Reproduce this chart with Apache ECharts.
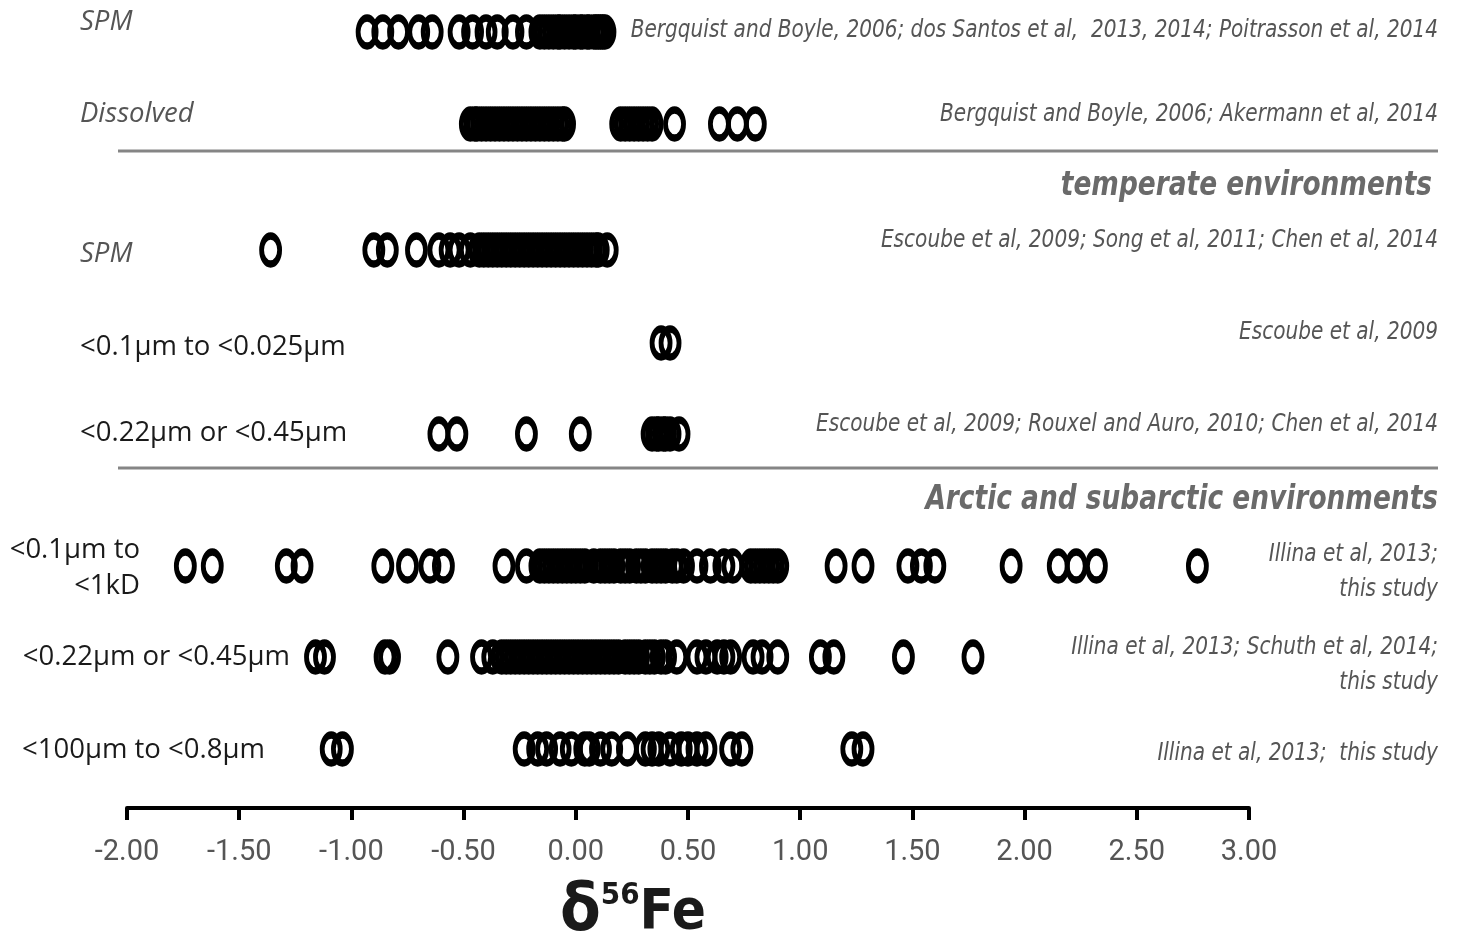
<!DOCTYPE html>
<html>
<head>
<meta charset="utf-8">
<script src="https://cdn.jsdelivr.net/npm/echarts@6/dist/echarts.min.js"></script>
<style>
  html, body { margin: 0; padding: 0; background: #fff; }
  #chart { width: 1459px; height: 947px; }
</style>
</head>
<body>
<div id="chart"></div>
<script>
// rows, top to bottom
const rowNames = ['SPM', 'Dissolved', 'SPM', '<0.1µm to <0.025µm', '<0.22µm or <0.45µm',
    '<0.1µm to\n<1kD', '<0.22µm or <0.45µm', '<100µm to <0.8µm'];
const references = [
    'Bergquist and Boyle, 2006; dos Santos et al,  2013, 2014; Poitrasson et al, 2014',
    'Bergquist and Boyle, 2006; Akermann et al, 2014',
    'Escoube et al, 2009; Song et al, 2011; Chen et al, 2014',
    'Escoube et al, 2009',
    'Escoube et al, 2009; Rouxel and Auro, 2010; Chen et al, 2014',
    'Illina et al, 2013;\nthis study',
    'Illina et al, 2013; Schuth et al, 2014;\nthis study',
    'Illina et al, 2013;  this study'
];
const headers = ['temperate environments', 'Arctic and subarctic environments'];
const xTicks = [-2, -1.5, -1, -0.5, 0, 0.5, 1, 1.5, 2, 2.5, 3];

// δ56Fe values per row
const tropSPM = [-0.93, -0.86, -0.79, -0.70, -0.64, -0.52, -0.46, -0.40, -0.35, -0.28, -0.22,
    -0.16, -0.14, -0.12, -0.10, -0.08, -0.07, -0.05, -0.03, -0.01, 0.00, 0.02, 0.03, 0.05,
    0.06, 0.08, 0.09, 0.10, 0.11, 0.12, 0.13];
const tropDissolved = [-0.47, -0.45, -0.44, -0.42, -0.40, -0.38, -0.36, -0.34, -0.32, -0.30,
    -0.28, -0.26, -0.24, -0.22, -0.20, -0.18, -0.16, -0.14, -0.12, -0.10, -0.08, -0.06, -0.05,
    0.20, 0.22, 0.24, 0.26, 0.28, 0.30, 0.32, 0.34, 0.44, 0.64, 0.72, 0.80];
const tempSPM = [-1.36, -0.90, -0.84, -0.71, -0.61, -0.56, -0.52, -0.47, -0.43, -0.41, -0.39,
    -0.37, -0.35, -0.33, -0.31, -0.29, -0.27, -0.25, -0.23, -0.21, -0.19, -0.17, -0.15, -0.13,
    -0.11, -0.09, -0.07, -0.05, -0.03, -0.01, 0.01, 0.03, 0.05, 0.07, 0.09, 0.10, 0.14];
const tempColloid = [0.38, 0.42];
const tempFiltered = [-0.61, -0.53, -0.22, 0.02, 0.34, 0.36, 0.37, 0.39, 0.40, 0.42, 0.46];
const arcColloid = [-1.74, -1.62, -1.29, -1.22, -0.86, -0.75, -0.65, -0.59, -0.32, -0.22,
    -0.16, -0.14, -0.12, -0.10, -0.08, -0.06, -0.04, -0.02, 0.00, 0.02, 0.04, 0.08,
    0.11, 0.13, 0.15, 0.17, 0.20, 0.22, 0.24, 0.27, 0.29, 0.31, 0.34, 0.36, 0.38,
    0.40, 0.43, 0.45, 0.48, 0.54, 0.60, 0.66, 0.70, 0.78, 0.80, 0.82, 0.84, 0.86, 0.88,
    0.90, 1.16, 1.28, 1.48, 1.54, 1.60, 1.94, 2.15, 2.23, 2.32, 2.77];
const arcFiltered = [-1.16, -1.12, -0.85, -0.83, -0.57, -0.42, -0.37, -0.33, -0.31, -0.29,
    -0.27, -0.25, -0.23, -0.21, -0.19, -0.17, -0.15, -0.13, -0.11, -0.09, -0.07, -0.05,
    -0.03, -0.01, 0.01, 0.03, 0.05, 0.07, 0.09, 0.11, 0.13, 0.15, 0.17, 0.19, 0.22, 0.24,
    0.26, 0.28, 0.31, 0.33, 0.35, 0.38, 0.40, 0.45, 0.54, 0.58, 0.63, 0.66, 0.69,
    0.79, 0.83, 0.90, 1.09, 1.15, 1.46, 1.77];
const arcCoarse = [-1.09, -1.04, -0.23, -0.17, -0.13, -0.07, -0.02, 0.04, 0.06, 0.11, 0.16,
    0.23, 0.31, 0.34, 0.37, 0.42, 0.47, 0.50, 0.54, 0.58, 0.69, 0.74, 1.23, 1.28];

const rowValues = [tropSPM, tropDissolved, tempSPM, tempColloid, tempFiltered,
    arcColloid, arcFiltered, arcCoarse];

// layout (pixel rows of the plot, y axis is hidden)
const rowY = [32, 124, 250, 343, 434, 566, 657, 749];
const labelLayout = [
    {x: 80, y: 22, align: 'left', style: 'italic'},
    {x: 80, y: 114, align: 'left', style: 'italic'},
    {x: 80, y: 254, align: 'left', style: 'italic'},
    {x: 80, y: 347, align: 'left', style: 'normal'},
    {x: 80, y: 433, align: 'left', style: 'normal'},
    {x: 140, y: 568, align: 'right', style: 'normal'},
    {x: 290, y: 657, align: 'right', style: 'normal'},
    {x: 22, y: 750, align: 'left', style: 'normal'}
];
const refY = [31, 115, 241, 333, 425, 572, 665, 754];
const headerY = [186, 500];
const headerX = [1432, 1438];
const sepY = [151, 468];

const narrow = '"DejaVu Sans Condensed", "DejaVu Sans", sans-serif';
const plain = '"Open Sans", "Noto Sans", sans-serif';

let graphics = [];
rowNames.forEach((name, i) => {
    let l = labelLayout[i];
    graphics.push({
        type: 'text',
        x: l.x,
        y: l.y,
        style: {
            text: name,
            fill: l.style === 'italic' ? '#555' : '#1a1a1a',
            font: l.style + ' 27.5px ' + plain,
            textAlign: l.align,
            textVerticalAlign: 'middle',
            lineHeight: 36
        }
    });
});
rowNames.forEach((name, i) => {
    graphics.push({
        type: 'text',
        x: 1438,
        y: refY[i],
        scaleX: 0.93,
        style: {
            text: references[i],
            fill: '#555',
            font: 'italic 24px ' + narrow,
            textAlign: 'right',
            textVerticalAlign: 'middle',
            lineHeight: 35
        }
    });
});
headers.forEach((h, i) => {
    graphics.push({
        type: 'text',
        x: headerX[i],
        y: headerY[i],
        scaleX: 0.89,
        style: {
            text: h,
            fill: '#6a6a6a',
            font: 'italic bold 33px ' + narrow,
            textAlign: 'right',
            textVerticalAlign: 'middle'
        }
    });
});
sepY.forEach((y) => {
    graphics.push({
        type: 'line',
        shape: {x1: 118, y1: y, x2: 1438, y2: y},
        style: {stroke: '#858585', lineWidth: 3}
    });
});
graphics.push({
    type: 'text',
    x: 560,
    y: 946,
    style: {
        rich: {
            d: {font: 'bold 66px ' + narrow, fill: '#1a1a1a'},
            s: {font: 'bold 31px ' + narrow, fill: '#1a1a1a', verticalAlign: 'top', padding: [0, 0, 30, 0]},
            f: {font: 'bold 56px ' + narrow, fill: '#1a1a1a'}
        },
        text: '{d|δ}{s|56}{f|Fe}',
        textVerticalAlign: 'bottom'
    }
});

let series = rowValues.map((vals, i) => ({
    name: rowNames[i],
    type: 'scatter',
    symbol: 'circle',
    symbolSize: [18, 28],
    silent: true,
    data: vals.map((v) => [v, rowY[i]]),
    itemStyle: {
        color: 'rgba(0,0,0,0)',
        borderColor: '#000',
        borderWidth: 6,
        opacity: 1
    }
}));

let option = {
    animation: false,
    grid: {
        left: 127,
        right: 210,
        top: 0,
        bottom: 139,
        containLabel: false
    },
    xAxis: {
        type: 'value',
        min: xTicks[0],
        max: xTicks[xTicks.length - 1],
        interval: 0.5,
        axisLine: {
            onZero: false,
            lineStyle: {color: '#000', width: 4}
        },
        axisTick: {
            show: true,
            length: 12,
            lineStyle: {color: '#000', width: 4}
        },
        axisLabel: {
            margin: 30,
            color: '#555',
            fontSize: 29,
            fontFamily: 'Roboto, sans-serif',
            formatter: (v) => v.toFixed(2)
        },
        splitLine: {show: false}
    },
    yAxis: {
        type: 'value',
        min: 0,
        max: 808,
        inverse: true,
        show: false
    },
    graphic: graphics,
    series: series
};

let chart = echarts.init(document.getElementById('chart'));
chart.setOption(option);
</script>
</body>
</html>
